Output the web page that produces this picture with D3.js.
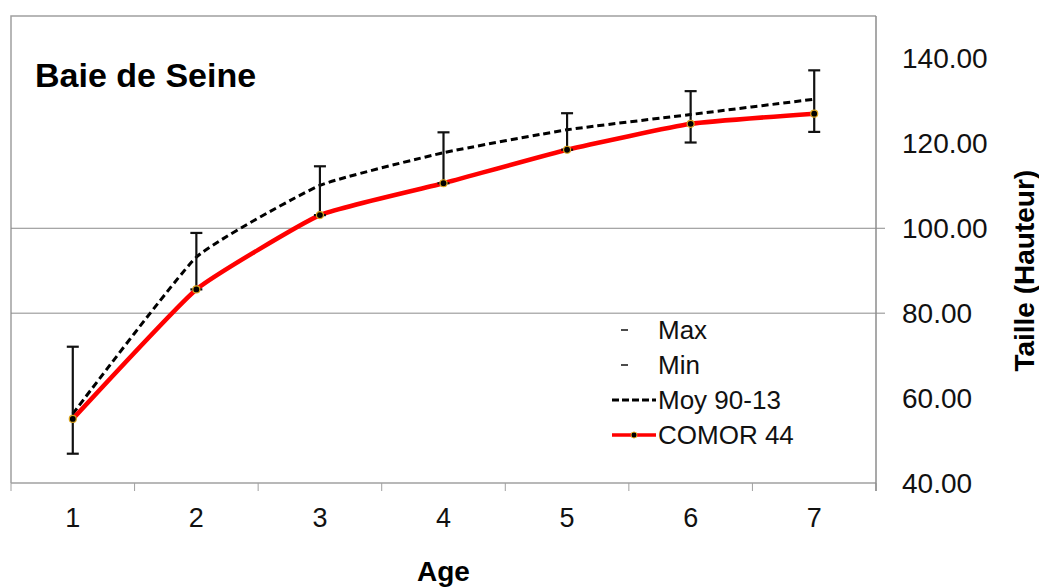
<!DOCTYPE html>
<html>
<head>
<meta charset="utf-8">
<script src="https://cdn.jsdelivr.net/npm/d3@7"></script>
<style>
  body { margin: 0; background: #fff; }
  text { font-family: "Liberation Sans", Arial, sans-serif; }
</style>
</head>
<body>
<div id="chart"></div>
<script>
// Data
const ages = ["1", "2", "3", "4", "5", "6", "7"];
const maxValues = [72.1, 98.9, 114.6, 122.6, 127.1, 132.3, 137.2];
const minValues = [46.9, 85.6, 103.1, 110.6, 118.5, 120.2, 122.7];
const moyValues = [56.3, 93.2, 110.1, 117.8, 123.2, 126.8, 130.4];
const comorValues = [55.1, 85.6, 103.1, 110.6, 118.5, 124.6, 127.0];
const yTicks = [40, 60, 80, 100, 120, 140];
const gridTicks = [80, 100];

const width = 1039, height = 587;
const margin = { top: 16, right: 163, bottom: 104, left: 11 };

const svg = d3.select("#chart")
  .append("svg")
  .attr("width", width)
  .attr("height", height);

// Scales
const x = d3.scaleBand()
  .domain(ages)
  .range([margin.left, width - margin.right]);

const y = d3.scaleLinear()
  .domain([40, 150])
  .range([height - margin.bottom, margin.top]);

const cx = d => x(d) + x.bandwidth() / 2;

// Plot frame (left + top), gray
svg.append("path")
  .attr("d", `M${margin.left},${y(40)}V${y(150)}H${width - margin.right}`)
  .attr("fill", "none")
  .attr("stroke", "#a0a0a0")
  .attr("stroke-width", 1.5);

// Gridlines
svg.append("g")
  .selectAll("line")
  .data(gridTicks)
  .enter()
  .append("line")
  .attr("x1", margin.left)
  .attr("x2", width - margin.right)
  .attr("y1", d => y(d))
  .attr("y2", d => y(d))
  .attr("stroke", "#8c8c8c")
  .attr("stroke-width", 1);

// X axis (ticks at band boundaries)
const xAxis = svg.append("g")
  .attr("transform", `translate(0, ${y(40)})`);
xAxis.append("line")
  .attr("x1", margin.left)
  .attr("x2", width - margin.right)
  .attr("stroke", "#a0a0a0")
  .attr("stroke-width", 1.5);
const bounds = ages.map(d => x(d)).concat([x.range()[1]]);
xAxis.selectAll(".tick")
  .data(bounds)
  .enter()
  .append("line")
  .attr("x1", d => d)
  .attr("x2", d => d)
  .attr("y1", 0)
  .attr("y2", 8)
  .attr("stroke", "#a0a0a0")
  .attr("stroke-width", 1);
xAxis.selectAll(".lbl")
  .data(ages)
  .enter()
  .append("text")
  .attr("x", d => cx(d))
  .attr("y", 44)
  .attr("text-anchor", "middle")
  .style("font-size", "27px")
  .attr("fill", "#111")
  .text(d => d);

// Y axis on the right
const yAxisX = width - margin.right;
svg.append("line")
  .attr("x1", yAxisX)
  .attr("x2", yAxisX)
  .attr("y1", y(150))
  .attr("y2", y(40) + 8)
  .attr("stroke", "#8c8c8c")
  .attr("stroke-width", 1.5);
svg.selectAll(".ytick")
  .data(gridTicks)
  .enter()
  .append("line")
  .attr("x1", yAxisX)
  .attr("x2", yAxisX + 9)
  .attr("y1", d => y(d))
  .attr("y2", d => y(d))
  .attr("stroke", "#8c8c8c");
svg.selectAll(".ylbl")
  .data(yTicks)
  .enter()
  .append("text")
  .attr("x", yAxisX + 26)
  .attr("y", d => y(d) + 10)
  .style("font-size", "28px")
  .attr("fill", "#111")
  .text(d => d3.format(".2f")(d));

// Axis titles
svg.append("text")
  .attr("x", cx("4"))
  .attr("y", 581)
  .attr("text-anchor", "middle")
  .style("font-size", "28px")
  .style("font-weight", "bold")
  .text("Age");

svg.append("text")
  .attr("transform", `translate(1034, ${y(90)}) rotate(-90)`)
  .attr("text-anchor", "middle")
  .style("font-size", "28px")
  .style("font-weight", "bold")
  .text("Taille (Hauteur)");

// Title
svg.append("text")
  .attr("x", 35)
  .attr("y", 87)
  .style("font-size", "34px")
  .style("font-weight", "bold")
  .text("Baie de Seine");

// Lines (mild smoothing, like the original)
const line = vals => d3.line()
  .x((d, i) => cx(ages[i]))
  .y(d => y(d))
  .curve(d3.curveCardinal.tension(0.6))(vals);

svg.append("path")
  .attr("d", line(moyValues))
  .attr("fill", "none")
  .attr("stroke", "#000")
  .attr("stroke-width", 3)
  .attr("stroke-dasharray", "7,4");

svg.append("path")
  .attr("d", line(comorValues))
  .attr("fill", "none")
  .attr("stroke", "#ff0000")
  .attr("stroke-width", 4.5);

// Error bars (Min to Max)
const bars = svg.append("g");
ages.forEach((a, i) => {
  const xc = cx(a);
  bars.append("line")
    .attr("x1", xc).attr("x2", xc)
    .attr("y1", y(minValues[i])).attr("y2", y(maxValues[i]))
    .attr("stroke", "#111").attr("stroke-width", 2.2);
  [maxValues[i], minValues[i]].forEach(v => {
    bars.append("line")
      .attr("x1", xc - 6).attr("x2", xc + 6)
      .attr("y1", y(v)).attr("y2", y(v))
      .attr("stroke", "#111").attr("stroke-width", 2.2);
  });
});

// Markers on COMOR 44
svg.append("g")
  .selectAll("circle")
  .data(comorValues)
  .enter()
  .append("circle")
  .attr("cx", (d, i) => cx(ages[i]))
  .attr("cy", d => y(d))
  .attr("r", 3.5)
  .attr("fill", "#000")
  .attr("stroke", "#d9a520")
  .attr("stroke-width", 1.2);

// Legend
const legend = svg.append("g").attr("transform", "translate(612, 330)");
const items = ["Max", "Min", "Moy 90-13", "COMOR 44"];
items.forEach((name, i) => {
  const ly = i * 35;
  if (i < 2) {
    legend.append("line")
      .attr("x1", 9).attr("x2", 16)
      .attr("y1", ly).attr("y2", ly)
      .attr("stroke", "#111").attr("stroke-width", 1.5);
  } else if (i === 2) {
    legend.append("line")
      .attr("x1", 0).attr("x2", 44)
      .attr("y1", ly).attr("y2", ly)
      .attr("stroke", "#000").attr("stroke-width", 3)
      .attr("stroke-dasharray", "7,3");
  } else {
    legend.append("line")
      .attr("x1", 0).attr("x2", 44)
      .attr("y1", ly).attr("y2", ly)
      .attr("stroke", "#ff0000").attr("stroke-width", 3.5);
    legend.append("circle")
      .attr("cx", 22).attr("cy", ly).attr("r", 3)
      .attr("fill", "#000").attr("stroke", "#d9a520");
  }
  legend.append("text")
    .attr("x", 46)
    .attr("y", ly + 9)
    .style("font-size", "26px")
    .attr("fill", "#111")
    .text(name);
});
</script>
</body>
</html>
